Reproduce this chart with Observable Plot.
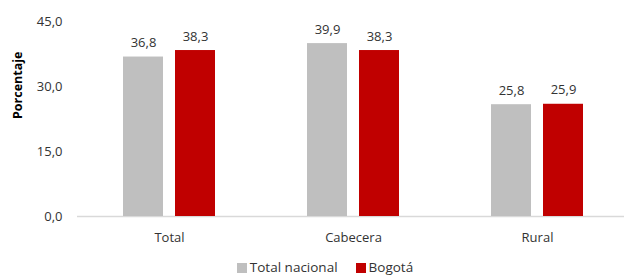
<!DOCTYPE html>
<html><head><meta charset="utf-8">
<script src="https://cdn.jsdelivr.net/npm/d3@7"></script>
<script src="https://cdn.jsdelivr.net/npm/@observablehq/plot@0.6"></script>
<style>
body{margin:0;background:#fff;font-family:"Open Sans",sans-serif;}
#legend{display:flex;justify-content:center;gap:18px;font-size:13.5px;color:#333;margin-left:26px;margin-top:11px;}
#legend span.sw{display:inline-block;width:10px;height:10px;margin-right:3px;vertical-align:-1px;}
</style></head>
<body><div id="chart"></div>
<div id="legend"></div>
<script>
const categories = ["Total", "Cabecera", "Rural"];
const series = ["Total nacional", "Bogotá"];
const totalNacional = [36.8, 39.9, 25.8];
const bogota = [38.3, 38.3, 25.9];
const yTicks = [0, 15, 30, 45];
const colors = ["#BFBFBF", "#C00000"];

const data = [];
categories.forEach((c, i) => {
  data.push({cat: c, serie: series[0], value: totalNacional[i]});
  data.push({cat: c, serie: series[1], value: bogota[i]});
});
const fmt = d => d.toFixed(1).replace(".", ",");

const chart = Plot.plot({
  width: 624,
  height: 247,
  marginTop: 21,
  marginBottom: 31,
  marginLeft: 77,
  marginRight: 0,
  style: {fontFamily: "'Open Sans', sans-serif", fontSize: "13px", color: "#333"},
  fx: {domain: categories, padding: 0, range: [77, 629], label: null, axis: "bottom", tickSize: 0, tickPadding: 16},
  x: {domain: series, axis: null, paddingInner: 0.226, paddingOuter: 0.849},
  y: {domain: [0, 45], axis: null},
  color: {domain: series, range: colors},
  marks: [
    Plot.ruleY([0], {stroke: "#D9D9D9", strokeWidth: 1.5}),
    Plot.barY(data, {fx: "cat", x: "serie", y: "value", fill: "serie"}),
    Plot.text(data, {fx: "cat", x: "serie", y: "value", text: d => fmt(d.value), dy: -14, fontSize: 13, fill: "#333"}),
    Plot.axisY({ticks: yTicks, tickFormat: fmt, tickSize: 0, tickPadding: 15, label: null, fontSize: 13}),
    Plot.ruleX([0], {fx: d => "Total", frameAnchor: "left", y1: 0, y2: 45, stroke: "#D9D9D9", strokeWidth: 1.5}),
    Plot.text(["Porcentaje"], {fx: d => "Total", frameAnchor: "left", y: 22.5, dx: -60, rotate: -90, fontWeight: "bold", fontSize: 12.5, fill: "#000"})
  ]
});
document.getElementById("chart").appendChild(chart);

const lg = document.getElementById("legend");
series.forEach((s, i) => {
  const el = document.createElement("div");
  el.innerHTML = `<span class="sw" style="background:${colors[i]}"></span>${s}`;
  lg.appendChild(el);
});
</script></body></html>
